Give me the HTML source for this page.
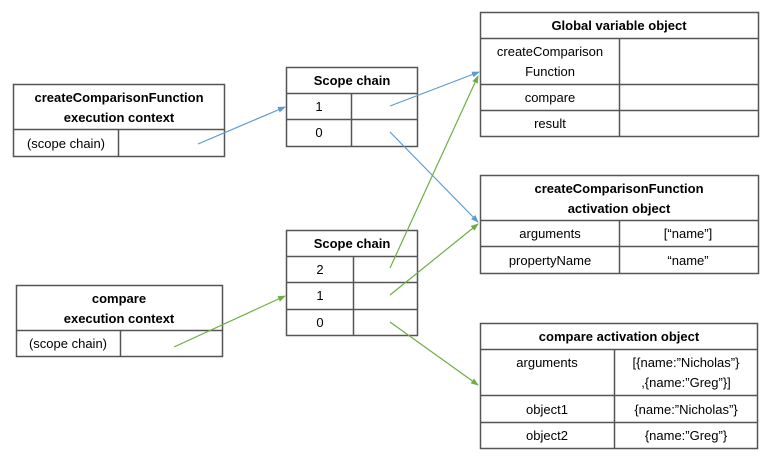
<!DOCTYPE html>
<html><head><meta charset="utf-8"><style>
html,body{margin:0;padding:0;background:#fff;}
svg text{font-family:"Liberation Sans",sans-serif;font-size:13px;fill:#000;}
.b{font-weight:bold;}
</style></head><body>
<svg width="775" height="461" viewBox="0 0 775 461" xmlns="http://www.w3.org/2000/svg">
<defs>
<marker id="ab" markerWidth="8" markerHeight="8" refX="7" refY="4" orient="auto" markerUnits="userSpaceOnUse"><path d="M0,1 L8,4 L0,7z" fill="#5b9bd5"/></marker>
<marker id="ag" markerWidth="8" markerHeight="8" refX="7" refY="4" orient="auto" markerUnits="userSpaceOnUse"><path d="M0,1 L8,4 L0,7z" fill="#70ad47"/></marker>
</defs>
<g fill="none" stroke="#555" stroke-width="1.5">
<!-- box1 -->
<rect x="13.5" y="84.5" width="211" height="72"/><line x1="13" y1="129.5" x2="225" y2="129.5"/><line x1="118.5" y1="129" x2="118.5" y2="157"/>
<!-- scope chain 1 -->
<rect x="286.5" y="67.5" width="131" height="79"/><line x1="286" y1="93.5" x2="418" y2="93.5"/><line x1="286" y1="119.5" x2="418" y2="119.5"/><line x1="351.5" y1="93" x2="351.5" y2="147"/>
<!-- global -->
<rect x="480.5" y="12.5" width="278" height="124"/><line x1="480" y1="38.5" x2="759" y2="38.5"/><line x1="480" y1="84.5" x2="759" y2="84.5"/><line x1="480" y1="110.5" x2="759" y2="110.5"/><line x1="619.5" y1="38" x2="619.5" y2="137"/>
<!-- cf activation -->
<rect x="480.5" y="175.5" width="278" height="98"/><line x1="480" y1="220.5" x2="759" y2="220.5"/><line x1="480" y1="246.5" x2="759" y2="246.5"/><line x1="619.5" y1="220" x2="619.5" y2="274"/>
<!-- scope chain 2 -->
<rect x="286.5" y="230.5" width="131" height="105"/><line x1="286" y1="256.5" x2="418" y2="256.5"/><line x1="286" y1="282.5" x2="418" y2="282.5"/><line x1="286" y1="309.5" x2="418" y2="309.5"/><line x1="353.5" y1="256" x2="353.5" y2="336"/>
<!-- compare exec -->
<rect x="16.5" y="285.5" width="206" height="71"/><line x1="16" y1="330.5" x2="223" y2="330.5"/><line x1="120.5" y1="330" x2="120.5" y2="357"/>
<!-- compare activation -->
<rect x="480.5" y="323.5" width="277" height="125"/><line x1="480" y1="349.5" x2="758" y2="349.5"/><line x1="480" y1="395.5" x2="758" y2="395.5"/><line x1="480" y1="422.5" x2="758" y2="422.5"/><line x1="614.5" y1="349" x2="614.5" y2="449"/>
</g>
<g stroke-width="1.2" fill="none">
<line x1="198" y1="144" x2="285" y2="107" stroke="#5b9bd5" marker-end="url(#ab)"/>
<line x1="390" y1="106" x2="479" y2="72" stroke="#5b9bd5" marker-end="url(#ab)"/>
<line x1="390" y1="132" x2="478" y2="222" stroke="#5b9bd5" marker-end="url(#ab)"/>
<line x1="174" y1="347" x2="285" y2="296" stroke="#70ad47" marker-end="url(#ag)"/>
<line x1="390" y1="268" x2="478" y2="76" stroke="#70ad47" marker-end="url(#ag)"/>
<line x1="390" y1="295" x2="478" y2="224" stroke="#70ad47" marker-end="url(#ag)"/>
<line x1="390" y1="322" x2="478" y2="385" stroke="#70ad47" marker-end="url(#ag)"/>
</g>
<g text-anchor="middle">
<text x="119" y="102" class="b">createComparisonFunction</text>
<text x="119" y="122" class="b">execution context</text>
<text x="66" y="148">(scope chain)</text>
<text x="352" y="85" class="b">Scope chain</text>
<text x="319" y="111">1</text>
<text x="319" y="137">0</text>
<text x="619" y="30" class="b">Global variable object</text>
<text x="550" y="56">createComparison</text>
<text x="550" y="76">Function</text>
<text x="550" y="102">compare</text>
<text x="550" y="128">result</text>
<text x="619" y="193" class="b">createComparisonFunction</text>
<text x="619" y="213" class="b">activation object</text>
<text x="550" y="238">arguments</text>
<text x="688" y="238">[“name”]</text>
<text x="550" y="265">propertyName</text>
<text x="688" y="265">“name”</text>
<text x="352" y="248" class="b">Scope chain</text>
<text x="320" y="274">2</text>
<text x="320" y="300">1</text>
<text x="320" y="327">0</text>
<text x="119" y="303" class="b">compare</text>
<text x="119" y="323" class="b">execution context</text>
<text x="68" y="348">(scope chain)</text>
<text x="619" y="341" class="b">compare activation object</text>
<text x="547" y="367">arguments</text>
<text x="686" y="367">[{name:”Nicholas”}</text>
<text x="686" y="387">,{name:”Greg”}]</text>
<text x="547" y="414">object1</text>
<text x="686" y="414">{name:”Nicholas”}</text>
<text x="547" y="440">object2</text>
<text x="686" y="440">{name:”Greg”}</text>
</g>
</svg>
</body></html>
